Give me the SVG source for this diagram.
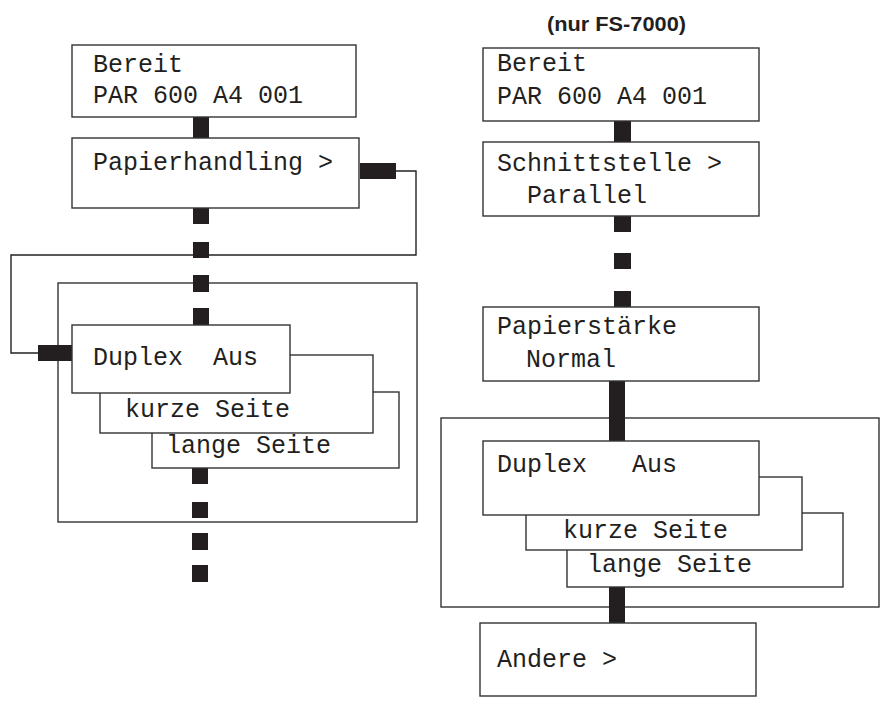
<svg xmlns="http://www.w3.org/2000/svg" width="885" height="701" viewBox="0 0 885 701">
<style>
.box{fill:#fff;stroke:#333;stroke-width:1.4}
.frame{fill:none;stroke:#333;stroke-width:1.4}
.line{fill:none;stroke:#222;stroke-width:1.4}
.bar{fill:#231f20}
.t{font-family:"Liberation Mono","Courier New",monospace;font-size:25px;fill:#231f20;white-space:pre}
.title{font-family:"Liberation Sans",Arial,sans-serif;font-weight:bold;font-size:21px;fill:#231f20}
</style>
<rect width="885" height="701" fill="#fff"/>
<text class="title" x="547" y="31" textLength="139" lengthAdjust="spacingAndGlyphs">(nur FS-7000)</text>

<g id="frames">
<rect class="frame" x="58" y="283" width="359" height="239"/>
<rect class="frame" x="441" y="418" width="438" height="189"/>
</g>

<g id="connectors">
<rect class="bar" x="193" y="117" width="16" height="21"/>
<rect class="bar" x="360" y="163" width="36" height="16"/>
<path class="line" d="M396,171 H416 V255 H11 V353 H38"/>
<rect class="bar" x="38" y="345" width="34" height="16"/>
<rect class="bar" x="193" y="208" width="16" height="16"/>
<rect class="bar" x="193" y="242" width="16" height="16"/>
<rect class="bar" x="193" y="275" width="16" height="17"/>
<rect class="bar" x="193" y="308" width="16" height="17"/>
<rect class="bar" x="192" y="468" width="16" height="16"/>
<rect class="bar" x="192" y="502" width="16" height="16"/>
<rect class="bar" x="192" y="533" width="16" height="17"/>
<rect class="bar" x="192" y="565" width="16" height="17"/>
<rect class="bar" x="614" y="121" width="17" height="21"/>
<rect class="bar" x="614" y="216" width="17" height="16"/>
<rect class="bar" x="614" y="253" width="17" height="16"/>
<rect class="bar" x="614" y="291" width="17" height="16"/>
<rect class="bar" x="609" y="381" width="16" height="60"/>
<rect class="bar" x="609" y="587" width="16" height="36"/>
</g>

<g id="l-bereit">
<rect class="box" x="72" y="45" width="284" height="72"/>
<text class="t" x="93" y="72">Bereit</text>
<text class="t" x="93" y="103">PAR 600 A4 001</text>
</g>
<g id="l-papier">
<rect class="box" x="72" y="138" width="287" height="70"/>
<text class="t" x="93" y="170">Papierhandling &gt;</text>
</g>
<g id="l-lange">
<rect class="box" x="152" y="392" width="247" height="76"/>
<text class="t" x="166" y="453">lange Seite</text>
</g>
<g id="l-kurze">
<rect class="box" x="100" y="355" width="273" height="78"/>
<text class="t" x="125" y="417">kurze Seite</text>
</g>
<g id="l-duplex">
<rect class="box" x="72" y="325" width="218" height="68"/>
<text class="t" x="93" y="365">Duplex  Aus</text>
</g>

<g id="r-bereit">
<rect class="box" x="483" y="48" width="276" height="73"/>
<text class="t" x="497" y="71">Bereit</text>
<text class="t" x="497" y="104">PAR 600 A4 001</text>
</g>
<g id="r-schnitt">
<rect class="box" x="483" y="142" width="276" height="74"/>
<text class="t" x="497" y="171">Schnittstelle &gt;</text>
<text class="t" x="527" y="203">Parallel</text>
</g>
<g id="r-papierst">
<rect class="box" x="483" y="307" width="276" height="74"/>
<text class="t" x="497" y="334">Papierstärke</text>
<text class="t" x="526" y="367">Normal</text>
</g>
<g id="r-lange">
<rect class="box" x="567" y="513" width="276" height="74"/>
<text class="t" x="587" y="572">lange Seite</text>
</g>
<g id="r-kurze">
<rect class="box" x="526" y="477" width="276" height="73"/>
<text class="t" x="563" y="538">kurze Seite</text>
</g>
<g id="r-duplex">
<rect class="box" x="483" y="441" width="276" height="74"/>
<text class="t" x="497" y="472">Duplex   Aus</text>
</g>
<g id="r-andere">
<rect class="box" x="480" y="623" width="276" height="73"/>
<text class="t" x="497" y="667">Andere &gt;</text>
</g>
</svg>
